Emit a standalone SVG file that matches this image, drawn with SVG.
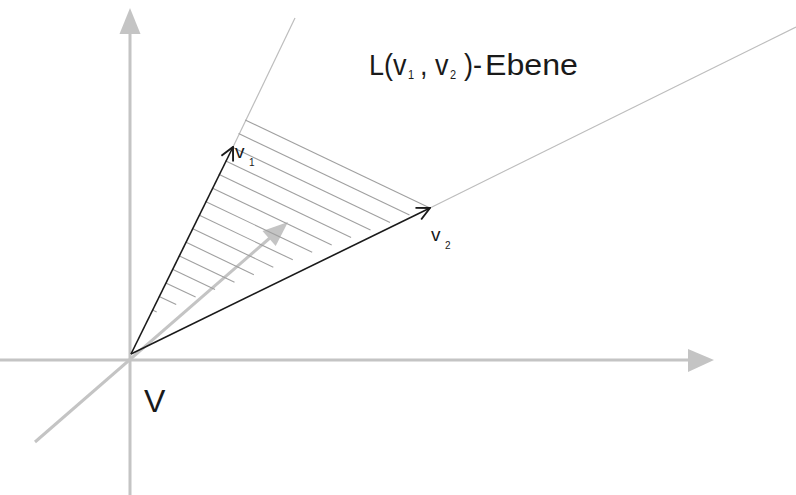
<svg xmlns="http://www.w3.org/2000/svg" width="796" height="495" viewBox="0 0 796 495">
<style>
.axis{stroke:#c4c4c4;stroke-width:3;fill:none}
.axhead{fill:#c4c4c4;stroke:none}
.ext{stroke:#bdbdbd;stroke-width:1.2;fill:none}
.hatch{stroke:#a0a0a0;stroke-width:1.1;fill:none}
.vec{stroke:#1a1a1a;stroke-width:1.6;fill:none}
.t{font-family:"Liberation Sans",Arial,sans-serif;fill:#1a1a1a}
.sub{font-size:11px}
</style>
<defs>
<marker id="open" markerUnits="userSpaceOnUse" viewBox="0 0 16 16" refX="15" refY="8" markerWidth="16" markerHeight="16" orient="auto">
<path d="M2,1.5 L15,8 L2,14.5" fill="none" stroke="#1a1a1a" stroke-width="1.9"/>
</marker>
</defs>
<rect width="796" height="495" fill="#ffffff"/>
<g id="axes">
<line class="axis" x1="130" y1="495" x2="130" y2="32"/>
<polygon class="axhead" points="130,8 119.5,34 140.5,34"/>
<line class="axis" x1="0" y1="360" x2="690" y2="360"/>
<polygon class="axhead" points="714,360 688,349 688,372"/>
<line class="axis" x1="35" y1="442" x2="271" y2="237"/>
<polygon class="axhead" points="288,222 275.7,246 262.5,230.9"/>
</g>
<g id="plane">
<line class="ext" x1="233" y1="147" x2="295" y2="18"/>
<line class="ext" x1="430" y1="208" x2="796" y2="27"/>
<g id="hatching">
<line class="hatch" x1="245.2" y1="120" x2="428.9" y2="207.6"/>
<line class="hatch" x1="238.6" y1="133.6" x2="409.5" y2="215"/>
<line class="hatch" x1="232" y1="147.1" x2="390" y2="222.4"/>
<line class="hatch" x1="225.3" y1="160.7" x2="370.5" y2="229.9"/>
<line class="hatch" x1="218.7" y1="174.3" x2="351.1" y2="237.4"/>
<line class="hatch" x1="212.1" y1="187.9" x2="331.7" y2="244.9"/>
<line class="hatch" x1="205.5" y1="201.4" x2="312.2" y2="252.3"/>
<line class="hatch" x1="198.9" y1="215" x2="292.8" y2="259.8"/>
<line class="hatch" x1="192.3" y1="228.6" x2="273.3" y2="267.2"/>
<line class="hatch" x1="185.6" y1="242.1" x2="253.9" y2="274.7"/>
<line class="hatch" x1="179" y1="255.7" x2="234.5" y2="282.2"/>
<line class="hatch" x1="172.4" y1="269.3" x2="215" y2="289.6"/>
<line class="hatch" x1="165.8" y1="282.9" x2="195.6" y2="297.1"/>
<line class="hatch" x1="159.2" y1="296.4" x2="176.2" y2="304.5"/>
<line class="hatch" x1="152.5" y1="310" x2="156.7" y2="312"/>
</g>
</g>
<g id="connectors">
<line id="v1" class="vec" x1="131" y1="354" x2="233" y2="147" marker-end="url(#open)"/>
<line id="v2" class="vec" x1="131" y1="354" x2="430" y2="208" marker-end="url(#open)"/>
</g>
<g id="label-v1">
<text class="t" x="235" y="158" font-size="19">v<tspan x="249" y="166" font-size="10">1</tspan></text>
</g>
<g id="label-v2">
<text class="t" x="431" y="241" font-size="19">v<tspan x="445" y="249" font-size="10">2</tspan></text>
</g>
<g id="label-V">
<text class="t" x="144" y="412" font-size="32">V</text>
</g>
<g id="label-plane">
<text class="t" font-size="27" transform="translate(0,75) scale(1,1.1)" y="0"><tspan x="369">L(v</tspan><tspan class="sub" x="408" dy="3.5">1</tspan><tspan x="420" dy="-3.5">,</tspan><tspan x="435">v</tspan><tspan class="sub" x="450" dy="3.5">2</tspan><tspan x="464" dy="-3.5">)-</tspan><tspan x="485" textLength="93" lengthAdjust="spacingAndGlyphs">Ebene</tspan></text>
</g>
</svg>
